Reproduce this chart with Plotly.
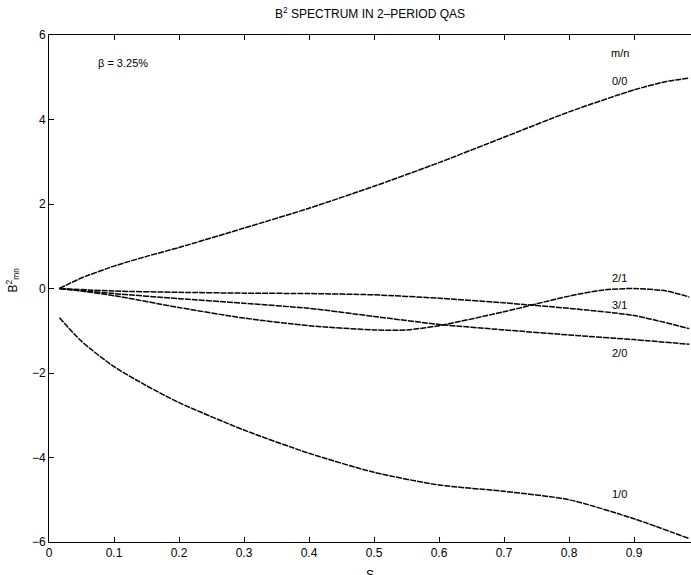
import plotly.graph_objects as go

# Radial coordinate s for each harmonic, with the B^2 Fourier amplitude B_mn^2
s_00 = [0.016, 0.05, 0.1, 0.15, 0.2, 0.3, 0.4, 0.5, 0.6, 0.7, 0.8, 0.9, 0.95, 0.985]
b_00 = [0.0, 0.25, 0.53, 0.76, 0.97, 1.43, 1.9, 2.42, 2.98, 3.58, 4.18, 4.7, 4.9, 4.98]

s_10 = [0.016, 0.05, 0.1, 0.15, 0.2, 0.3, 0.4, 0.5, 0.6, 0.7, 0.8, 0.9, 0.985]
b_10 = [-0.69, -1.25, -1.85, -2.3, -2.7, -3.35, -3.9, -4.35, -4.65, -4.8, -5.0, -5.45, -5.92]

s_21 = [0.016, 0.05, 0.1, 0.2, 0.3, 0.4, 0.5, 0.55, 0.6, 0.7, 0.8, 0.85, 0.9, 0.95, 0.985]
b_21 = [0.0, -0.06, -0.17, -0.45, -0.7, -0.88, -0.98, -0.98, -0.88, -0.55, -0.18, -0.04, 0.0, -0.06, -0.2]

s_20 = [0.016, 0.1, 0.2, 0.3, 0.4, 0.5, 0.6, 0.7, 0.8, 0.9, 0.985]
b_20 = [0.0, -0.12, -0.24, -0.35, -0.47, -0.66, -0.85, -0.98, -1.1, -1.21, -1.32]

s_31 = [0.016, 0.1, 0.2, 0.3, 0.4, 0.5, 0.6, 0.7, 0.8, 0.9, 0.985]
b_31 = [0.0, -0.06, -0.09, -0.11, -0.12, -0.15, -0.23, -0.34, -0.47, -0.64, -0.95]

# Curve labels: text, s position, value position
label_text = ["m/n", "0/0", "2/1", "3/1", "2/0", "1/0"]
label_s = [0.878, 0.878, 0.878, 0.878, 0.878, 0.878]
label_b = [5.58, 4.92, 0.24, -0.40, -1.52, -4.86]

x_ticks = [0, 0.1, 0.2, 0.3, 0.4, 0.5, 0.6, 0.7, 0.8, 0.9]
y_ticks = [-6, -4, -2, 0, 2, 4, 6]

FONT = "Liberation Sans, Arial, sans-serif"

fig = go.Figure()
for xs, ys in [(s_00, b_00), (s_10, b_10), (s_21, b_21), (s_20, b_20), (s_31, b_31)]:
    fig.add_trace(go.Scatter(
        x=xs, y=ys, mode="lines",
        line=dict(color="black", width=1.5, shape="spline", smoothing=0.7, dash="6px,1px"),
        showlegend=False, hoverinfo="skip",
    ))

annotations = [
    dict(x=xs, y=ys, xref="x", yref="y", text=t, showarrow=False,
         font=dict(family=FONT, size=11, color="black"))
    for t, xs, ys in zip(label_text, label_s, label_b)
]
annotations.append(dict(x=0.114, y=5.34, xref="x", yref="y", text="β = 3.25%",
                        showarrow=False, font=dict(family=FONT, size=11, color="black")))
# axis titles placed by hand: the S sits partly below the page edge
annotations.append(dict(x=(370 - 49) / 642, y=-24 / 507, xref="paper", yref="paper",
                        text="S", showarrow=False, xanchor="center", yanchor="top",
                        font=dict(family=FONT, size=12, color="black")))
annotations.append(dict(x=-37 / 642, y=0.5 + 8 / 507, xref="paper", yref="paper",
                        text="B<sup>2</sup><sub>mn</sub>", showarrow=False, textangle=-90,
                        xanchor="center", yanchor="middle",
                        font=dict(family=FONT, size=12, color="black")))

fig.update_layout(
    width=691, height=575,
    margin=dict(l=49, r=0, t=35, b=33),
    paper_bgcolor="white", plot_bgcolor="white",
    font=dict(family=FONT, size=12, color="black"),
    title=dict(text="B<sup>2</sup> SPECTRUM IN 2–PERIOD QAS", x=370 / 691, xanchor="center",
               y=1 - 14 / 575, yanchor="middle", font=dict(family=FONT, size=12)),
    xaxis=dict(range=[0, 642 / 650], tickvals=x_ticks, ticktext=[f"{v:g}" for v in x_ticks],
               ticks="inside", ticklen=5, tickcolor="black", showline=True, linecolor="black",
               linewidth=1, mirror="ticks", showgrid=False, zeroline=False,
               tickfont=dict(family=FONT, size=12)),
    yaxis=dict(range=[-6, 6], tickvals=y_ticks, ticks="inside", ticklen=5, tickcolor="black",
               showline=True, linecolor="black", linewidth=1, showgrid=False, zeroline=False,
               tickfont=dict(family=FONT, size=12)),
    annotations=annotations,
)

fig.write_html("out.html")
